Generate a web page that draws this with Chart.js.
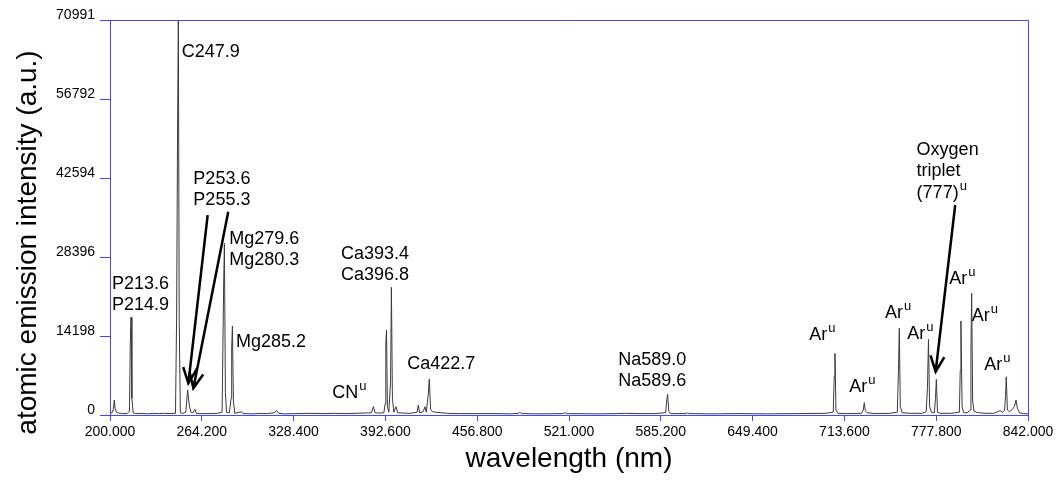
<!DOCTYPE html>
<html>
<head>
<meta charset="utf-8">
<script src="https://cdn.jsdelivr.net/npm/chart.js@4.4.1/dist/chart.umd.min.js"></script>
<style>
  html, body { margin: 0; padding: 0; background: #ffffff; }
  #wrap { width: 1061px; height: 487px; }
</style>
</head>
<body>
<div id="wrap"><canvas id="spectrum" width="1061" height="487"></canvas></div>
<script>
// spectrum points (nm, a.u.)
const wavelength = [
    200.0, 201.8, 202.4, 203.0, 203.6, 204.5, 206.0, 208.0, 212.0, 213.6,
    214.2, 214.7, 215.3, 216.2, 218.0, 222.0, 226.0, 230.0, 234.0, 238.0,
    242.0, 245.8, 246.6, 247.3, 247.8, 248.4, 249.2, 251.0, 253.0, 254.3,
    255.4, 256.6, 258.0, 259.4, 260.4, 264.0, 270.0, 275.0, 278.4, 279.5,
    280.0, 280.7, 281.5, 283.5, 284.7, 285.1, 285.6, 286.3, 287.3, 292.0,
    293.0, 300.0, 305.0, 310.0, 315.0, 316.6, 318.0, 322.0, 330.0, 340.0,
    350.0, 357.0, 365.0, 372.0, 378.0, 382.8, 384.2, 385.4, 388.0, 391.5,
    392.4, 392.9, 393.4, 394.0, 395.0, 396.2, 396.8, 397.5, 398.5, 400.0,
    401.2, 405.0, 410.0, 414.8, 415.6, 416.5, 419.0, 420.3, 421.2, 422.5,
    423.3, 424.2, 425.5, 428.0, 432.0, 436.0, 445.0, 455.0, 470.0, 480.0,
    485.8, 486.7, 487.8, 500.0, 517.2, 518.2, 519.2, 540.0, 555.0, 560.0,
    570.0, 580.0, 588.6, 589.4, 590.0, 590.8, 592.0, 603.0, 604.0, 605.0,
    620.0, 640.0, 660.0, 680.0, 700.0, 705.8, 706.5, 707.0, 707.7, 709.0,
    715.0, 725.5, 726.8, 727.5, 728.2, 729.5, 735.0, 745.0, 750.6, 751.5,
    752.0, 752.7, 754.0, 760.0, 768.0, 770.8, 771.7, 772.4, 773.2, 774.5,
    776.5, 777.3, 777.9, 778.7, 780.5, 788.0, 794.0, 794.6, 795.1, 795.9,
    797.0, 799.5, 801.6, 802.1, 802.6, 803.3, 804.2, 806.0, 808.0, 812.0,
    818.0, 821.0, 822.4, 824.0, 825.6, 826.3, 826.8, 827.6, 829.0, 831.0,
    832.5, 833.6, 834.6, 836.0, 839.0, 842.0
];
const intensity = [
    300, 500, 1200, 2700, 1100, 500, 350, 250, 250, 700,
    13000, 17560, 3000, 400, 250, 300, 200, 300, 250, 300,
    250, 300, 17800, 53400, 70991, 17000, 400, 300, 500, 4500,
    1800, 500, 400, 1000, 300, 250, 250, 300, 500, 23700,
    30850, 4000, 500, 400, 3000, 12000, 16000, 2500, 300, 600,
    250, 200, 300, 250, 400, 800, 300, 200, 250, 300,
    250, 300, 250, 300, 350, 400, 1500, 400, 350, 400,
    2000, 13000, 15270, 1500, 500, 6000, 22950, 3000, 500, 1500,
    400, 350, 300, 500, 1800, 400, 600, 1500, 500, 3500,
    6470, 1000, 600, 500, 400, 300, 250, 250, 250, 200,
    300, 500, 250, 200, 250, 450, 250, 200, 250, 300,
    250, 250, 400, 2800, 3720, 700, 250, 250, 400, 250,
    200, 250, 200, 250, 300, 500, 7000, 11080, 900, 300,
    250, 300, 900, 2210, 800, 400, 250, 300, 500, 9000,
    15580, 1500, 400, 300, 300, 600, 5000, 13600, 1500, 500,
    400, 3000, 6410, 500, 300, 300, 500, 8000, 16890, 1500,
    400, 400, 900, 12000, 21870, 2500, 700, 500, 400, 300,
    300, 600, 800, 500, 800, 3500, 6880, 900, 600, 1000,
    1500, 2700, 1200, 400, 250, 200
];

const xTicks = [200, 264.2, 328.4, 392.6, 456.8, 521, 585.2, 649.4, 713.6, 777.8, 842];
const xTickLabels = ['200.000', '264.200', '328.400', '392.600', '456.800', '521.000',
    '585.200', '649.400', '713.600', '777.800', '842.000'];
const yTicks = [0, 14198, 28396, 42594, 56792, 70991];
const yTickLabels = ['0', '14198', '28396', '42594', '56792', '70991'];

const xTitle = 'wavelength (nm)';
const yTitle = 'atomic emission intensity (a.u.)';

const FAMILY = "Arial, 'Liberation Sans', sans-serif";
const BLUE = '#4646f5';

// peak labels, anchored in data units (left edge, first line centre)
const notes = [
    { lines: ['C247.9'], at: [250.1, 65290] },
    { lines: ['P213.6', 'P214.9'], at: [201.4, 23540] },
    { lines: ['P253.6', 'P255.3'], at: [258.3, 42410] },
    { lines: ['Mg279.6', 'Mg280.3'], at: [283.4, 31630] },
    { lines: ['Mg285.2'], at: [288.1, 13170] },
    { lines: ['Ca393.4', 'Ca396.8'], at: [361.5, 28930] },
    { lines: ['CN'], sup: true, at: [355.5, 3900] },
    { lines: ['Ca422.7'], at: [407.9, 9170] },
    { lines: ['Na589.0', 'Na589.6'], at: [555.5, 9880] },
    { lines: ['Oxygen', 'triplet', '(777)'], sup: true, at: [764.1, 47630] },
    { lines: ['Ar'], sup: true, at: [689.0, 14380] },
    { lines: ['Ar'], sup: true, at: [717.0, 4980] },
    { lines: ['Ar'], sup: true, at: [742.0, 18390] },
    { lines: ['Ar'], sup: true, at: [757.5, 14500] },
    { lines: ['Ar'], sup: true, at: [786.9, 24390] },
    { lines: ['Ar'], sup: true, at: [802.6, 17790] },
    { lines: ['Ar'], sup: true, at: [811.4, 8990] },
];

const arrows = [
    { from: [268.3, 35940], to: [254.8, 5700] },
    { from: [282.7, 36540], to: [258.3, 4800] },
    { from: [791.1, 37740], to: [777.4, 7780] },
];

function drawArrow(ctx, x0, y0, x1, y1) {
    const ang = Math.atan2(y1 - y0, x1 - x0);
    const len = 17, spread = 0.42;
    ctx.beginPath();
    ctx.moveTo(x0, y0);
    ctx.lineTo(x1, y1);
    ctx.moveTo(x1 - len * Math.cos(ang - spread), y1 - len * Math.sin(ang - spread));
    ctx.lineTo(x1, y1);
    ctx.lineTo(x1 - len * Math.cos(ang + spread), y1 - len * Math.sin(ang + spread));
    ctx.stroke();
}

const annotate = {
    id: 'annotate',
    afterDraw(chart) {
        const { ctx, chartArea: a, scales: { x, y } } = chart;
        ctx.save();

        // top and right frame
        ctx.strokeStyle = BLUE;
        ctx.lineWidth = 1;
        ctx.beginPath();
        ctx.moveTo(a.left, a.top + 0.5);
        ctx.lineTo(a.right + 0.5, a.top + 0.5);
        ctx.lineTo(a.right + 0.5, a.bottom);
        ctx.stroke();

        // labels
        ctx.fillStyle = '#000000';
        ctx.textAlign = 'left';
        notes.forEach(n => {
            const px = x.getPixelForValue(n.at[0]);
            const py = y.getPixelForValue(n.at[1]);
            n.lines.forEach((t, i) => {
                const cy = py + i * 21.5;
                ctx.font = `18px ${FAMILY}`;
                ctx.textBaseline = 'middle';
                ctx.fillText(t, px, cy);
                if (n.sup && i === n.lines.length - 1) {
                    const w = ctx.measureText(t).width;
                    ctx.font = `13px ${FAMILY}`;
                    ctx.textBaseline = 'alphabetic';
                    ctx.fillText('u', px + w + 1, cy - 3);
                }
            });
        });

        // arrows
        ctx.strokeStyle = '#000000';
        ctx.lineWidth = 2.5;
        ctx.lineCap = 'butt';
        ctx.lineJoin = 'miter';
        arrows.forEach(r => {
            drawArrow(ctx,
                x.getPixelForValue(r.from[0]), y.getPixelForValue(r.from[1]),
                x.getPixelForValue(r.to[0]), y.getPixelForValue(r.to[1]));
        });

        // axis titles
        ctx.font = `28px ${FAMILY}`;
        ctx.textAlign = 'center';
        ctx.textBaseline = 'alphabetic';
        ctx.fillText(xTitle, (a.left + a.right) / 2, a.bottom + 52);
        ctx.translate(36, (a.top + a.bottom) / 2 + 25);
        ctx.rotate(-Math.PI / 2);
        ctx.fillText(yTitle, 0, 0);

        ctx.restore();
    }
};

new Chart(document.getElementById('spectrum'), {
    type: 'line',
    data: {
        datasets: [{
            data: wavelength.map((w, i) => ({ x: w, y: intensity[i] })),
            borderColor: '#3a3a3a',
            borderWidth: 1,
            pointRadius: 0,
            tension: 0,
            fill: false
        }]
    },
    options: {
        responsive: false,
        animation: false,
        layout: { padding: { left: 0, right: 33, top: 20, bottom: 0 } },
        plugins: {
            legend: { display: false },
            tooltip: { enabled: false }
        },
        scales: {
            x: {
                type: 'linear',
                min: 200,
                max: 842,
                afterBuildTicks: s => { s.ticks = xTicks.map(v => ({ value: v })); },
                afterFit: s => { s.height = 72; },
                ticks: {
                    autoSkip: false,
                    maxRotation: 0,
                    padding: 3,
                    color: '#000000',
                    font: { family: FAMILY, size: 14 },
                    callback: (v, i) => xTickLabels[i]
                },
                grid: { drawOnChartArea: false, drawTicks: true, tickLength: 6, color: BLUE },
                border: { color: BLUE, width: 1 }
            },
            y: {
                min: 0,
                max: 70991,
                afterBuildTicks: s => { s.ticks = yTicks.map(v => ({ value: v })); },
                afterFit: s => { s.width = 110; },
                ticks: {
                    autoSkip: false,
                    padding: 5,
                    labelOffset: -4.5,
                    color: '#000000',
                    font: { family: FAMILY, size: 14 },
                    callback: (v, i) => yTickLabels[i]
                },
                grid: { drawOnChartArea: false, drawTicks: true, tickLength: 10, color: BLUE },
                border: { color: BLUE, width: 1 }
            }
        }
    },
    plugins: [annotate]
});
</script>
</body>
</html>
